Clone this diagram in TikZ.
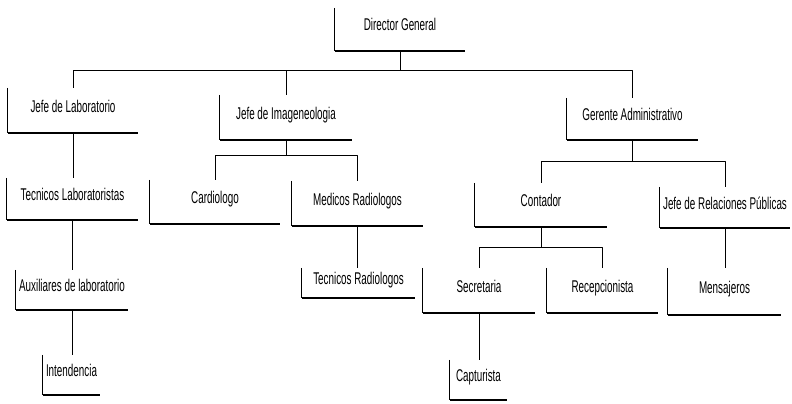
\documentclass[tikz,border=0pt]{standalone}
\usepackage{fontspec}
\setmainfont[FakeStretch=0.58]{Liberation Sans}

\begin{document}
\begin{tikzpicture}[x=1pt, y=-1pt, line join=round,
    font=\fontsize{17}{19}\selectfont,
    puesto/.style 2 args={inner sep=0pt, text height=10pt, text depth=7pt,
        minimum width=#1pt, minimum height=#2pt},
    lado/.style={line width=0.9pt},
    base/.style={line width=2.4pt},
    enlace/.style={line width=0.9pt}]

    \useasboundingbox (0,0) rectangle (792,404);

    % Level 0 and 1 (pixel grid, y grows downwards)
    \node[puesto={130}{43}] (dg) at (400,29.5)  {Director General};
    \node[puesto={130}{45}] (jl) at (73,110.5)  {Jefe de Laboratorio};
    \node[puesto={132}{45}] (ji) at (286,117.5) {Jefe de Imageneologia};
    \node[puesto={131}{42}] (ga) at (632.5,119) {Gerente Administrativo};

    % Level 2
    \node[puesto={131}{42}] (tl) at (72.5,199)  {Tecnicos Laboratoristas};
    \node[puesto={130}{44}] (ca) at (215,202)   {Cardiologo};
    \node[puesto={131}{45}] (mr) at (357.5,203.5) {Medicos Radiologos};
    \node[puesto={132}{44}] (co) at (541,205)   {Contador};
    \node[puesto={130}{41}] (rp) at (725,207.5) {Jefe de Relaciones Públicas};

    % Level 3
    \node[puesto={112}{40}] (au) at (72,290)    {Auxiliares de laboratorio};
    \node[puesto={113}{30}] (tr) at (358.5,283) {Tecnicos Radiologos};
    \node[puesto={112}{45}] (se) at (479,290.5) {Secretaria};
    \node[puesto={111}{45}] (re) at (602.5,290.5) {Recepcionista};
    \node[puesto={113}{47}] (me) at (724.5,291.5) {Mensajeros};

    % Level 4
    \node[puesto={57}{40}] (in) at (71.5,375)   {Intendencia};
    \node[puesto={57}{40}] (cp) at (478.5,380)  {Capturista};

    % Open boxes: only left side and heavy base line survive
    \foreach \n in {dg,jl,ji,ga,tl,ca,mr,co,rp,au,tr,se,re,me,in,cp} {
        \draw[lado] (\n.north west) -- (\n.south west);
        \draw[base] (\n.south west) -- (\n.south east);
    }

    % Director General and its three heads
    \draw[enlace] (dg.south) -- ++(0,19) coordinate (bus1);
    \draw[enlace] (bus1) -| (jl.north);
    \draw[enlace] (bus1) -| (ji.north);
    \draw[enlace] (bus1) -| (ga.north);

    % Laboratorio branch
    \draw[enlace] (jl.south) -- (jl.south |- tl.north);
    \draw[enlace] (tl.south) -- (tl.south |- au.north);
    \draw[enlace] (au.south) -- (au.south |- in.north);

    % Imageneologia branch
    \draw[enlace] (ji.south) -- ++(0,15) coordinate (bus2);
    \draw[enlace] (bus2) -| (ca.north);
    \draw[enlace] (bus2) -| (mr.north);
    \draw[enlace] (mr.south) -- (mr.south |- tr.north);

    % Administrativo branch
    \draw[enlace] (ga.south) -- ++(0,21) coordinate (bus3);
    \draw[enlace] (bus3) -| (co.north);
    \draw[enlace] (bus3) -| (rp.north);
    \draw[enlace] (co.south) -- ++(0,20) coordinate (bus4);
    \draw[enlace] (bus4) -| (se.north);
    \draw[enlace] (bus4) -| (re.north);
    \draw[enlace] (rp.south) -- (rp.south |- me.north);
    \draw[enlace] (se.south) -- (se.south |- cp.north);

\end{tikzpicture}
\end{document}
